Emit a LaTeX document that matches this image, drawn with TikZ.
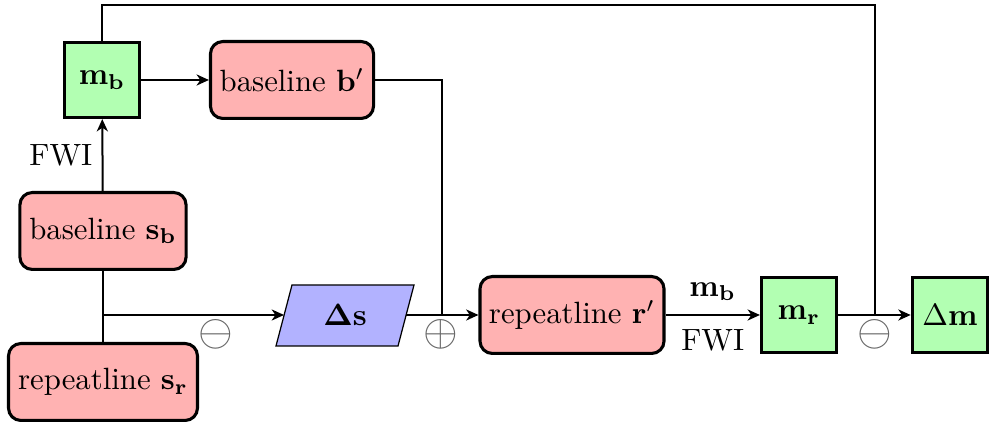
\documentclass[tikz,border=0pt]{standalone}
\usepackage{amsmath,bm}
\usetikzlibrary{arrows.meta}
\begin{document}
\begin{tikzpicture}[x=0.325pt,y=-0.325pt,
  rbox/.style={draw, line width=1pt, rounded corners=4pt, fill=red!30, minimum height=25pt, inner xsep=2pt},
  gbox/.style={draw, line width=1pt, fill=green!30, minimum width=24.4pt, minimum height=24.4pt},
  conn/.style={line width=0.65pt},
  arr/.style={conn, -{Stealth[length=4pt,width=3.6pt,inset=1.2pt]}},
  opsym/.style={text=black!60, inner sep=0pt, scale=1.45},
  dsbox/.style={draw, line width=0.4pt, fill=blue!30}]
\useasboundingbox (0,0) rectangle (989,424);

\node[gbox] (mb) at (102,80) {$\mathbf{m_b}$};
\node[rbox, minimum width=53pt] (bp) at (292,80) {baseline $\mathbf{b'}$};
\node[rbox, minimum width=54pt] (sb) at (103,231) {baseline $\mathbf{s_b}$};
\node[rbox, minimum width=61.4pt] (sr) at (103,382) {repeatline $\mathbf{s_r}$};
\node[rbox, minimum width=59.8pt] (rp) at (572,315) {repeatline $\mathbf{r'}$};
\node[gbox] (mr) at (799,315) {$\mathbf{m_r}$};
\node[gbox] (dm) at (950,315) {$\Delta\mathbf{m}$};

\draw[dsbox] (276,346) -- (292,285) -- (414,285) -- (398,346) -- cycle;
\node (ds) at (345,315) {$\bm{\Delta}\mathbf{s}$};
\coordinate (dsl) at (284,315);
\coordinate (dsr) at (406,315);

\coordinate (j1) at (103,315);
\coordinate (j2) at (442,315);
\coordinate (j3) at (875,315);
\coordinate (top) at (875,5);

\draw[arr] (sb) -- node[midway, left, inner sep=3pt] {FWI} (mb);
\draw[arr] (mb) -- (bp);
\draw[conn] (sb) -- (sr);
\draw[arr] (j1) -- (dsl);
\draw[arr] (dsr) -- (rp);
\draw[conn] (bp.east) -| (j2);
\draw[arr] (rp) -- node[above, yshift=1pt] {$\mathbf{m_b}$} node[below, yshift=-1pt] {FWI} (mr);
\draw[arr] (mr) -- (dm);
\draw[conn] (mb.north) |- (top) -- (j3);

\node[opsym] (o1) at (216,334) {$\ominus$};
\node[opsym] (o2) at (441,334) {$\oplus$};
\node[opsym] (o3) at (875,334) {$\ominus$};
\end{tikzpicture}
\end{document}
